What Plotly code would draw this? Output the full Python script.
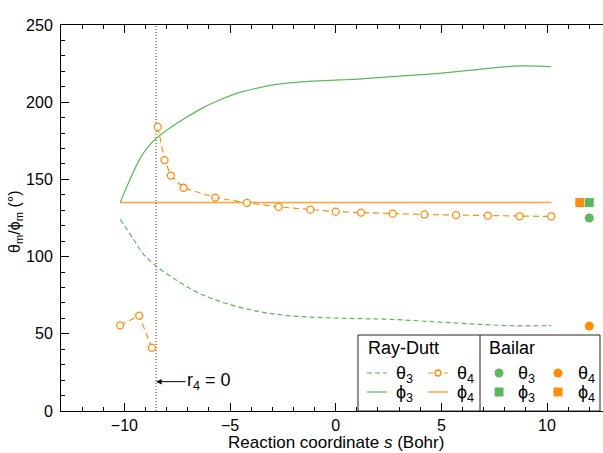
import plotly.graph_objects as go

# ---------------- data ----------------
s_theta3 = [-10.2, -9.6, -9.13, -8.5, -7.55, -6.45, -5.2, -3.6, -2.0, -0.45, 1.14, 2.56, 4.93, 6.82, 8.56, 10.2]
theta3 = [124.2, 111.8, 102.1, 93.9, 84.8, 76.2, 69.8, 64.3, 61.5, 60.4, 59.8, 59.4, 57.6, 56.1, 55.2, 55.3]

s_phi3 = [-10.2, -9.8, -9.3, -9.0, -8.5, -7.55, -6.4, -5.5, -4.4, -2.8, -1.2, 0.2, 1.1, 2.6, 4.9, 6.8, 8.4, 9.0, 10.2]
phi3 = [135, 148, 162.5, 169, 176.5, 186, 195.5, 201.4, 206.8, 211.5, 213.6, 214.4, 215, 216.5, 218.7, 221.3, 223.3, 223.5, 223]

s_theta4_a = [-10.2, -9.3, -8.7]
theta4_a = [55.5, 61.8, 41.0]
s_theta4_b = [-8.42, -8.1, -7.8, -7.2, -5.7, -4.2, -2.7, -1.2, 0.0, 1.2, 2.7, 4.2, 5.7, 7.2, 8.7, 10.2]
theta4_b = [184, 162.5, 152.5, 144.6, 138.2, 134.8, 132.2, 130.4, 129.1, 128.5, 127.8, 127.3, 126.9, 126.5, 126.1, 126.0]

s_phi4 = [-10.2, 10.2]
phi4 = [135, 135]

# Bailar reference values
bailar_s_theta3, bailar_theta3 = [12.0], [125]
bailar_s_phi3, bailar_phi3 = [12.0], [135]
bailar_s_theta4, bailar_theta4 = [12.0], [55]
bailar_s_phi4, bailar_phi4 = [11.55], [135]

s_r4_zero = -8.5
r4_label_y = 19

GREEN = "#5cb85c"
ORANGE = "#ff8c0a"
FONT = "Liberation Sans"

fig = go.Figure()

fig.add_trace(go.Scatter(x=[s_r4_zero, s_r4_zero], y=[0, 250], mode="lines",
                         line=dict(color="#333333", width=1, dash="1px,2px"), showlegend=False))
fig.add_trace(go.Scatter(x=s_theta3, y=theta3, mode="lines", line_shape="spline",
                         line=dict(color=GREEN, width=1.2, dash="5px,3px"), showlegend=False))
fig.add_trace(go.Scatter(x=s_phi3, y=phi3, mode="lines", line_shape="spline",
                         line=dict(color=GREEN, width=1.2), showlegend=False))
fig.add_trace(go.Scatter(x=s_phi4, y=phi4, mode="lines",
                         line=dict(color=ORANGE, width=1.5), opacity=0.8, showlegend=False))
for xs, ys in [(s_theta4_a, theta4_a), (s_theta4_b, theta4_b)]:
    fig.add_trace(go.Scatter(x=xs, y=ys, mode="lines+markers",
                             line=dict(color=ORANGE, width=1.2, dash="6px,4px"),
                             marker=dict(symbol="circle", size=7, color="white",
                                         line=dict(color=ORANGE, width=1.3)),
                             showlegend=False))
fig.add_trace(go.Scatter(x=bailar_s_theta3, y=bailar_theta3, mode="markers",
                         marker=dict(symbol="circle", size=9, color=GREEN), showlegend=False))
fig.add_trace(go.Scatter(x=bailar_s_phi3, y=bailar_phi3, mode="markers",
                         marker=dict(symbol="square", size=9, color=GREEN), showlegend=False))
fig.add_trace(go.Scatter(x=bailar_s_theta4, y=bailar_theta4, mode="markers",
                         marker=dict(symbol="circle", size=9, color=ORANGE), showlegend=False))
fig.add_trace(go.Scatter(x=bailar_s_phi4, y=bailar_phi4, mode="markers",
                         marker=dict(symbol="square", size=9, color=ORANGE), showlegend=False))

# ---------------- layout ----------------
L, T, R, B = 61, 25, 603, 411
W, H = 603, 453


def PX(px):
    return (px - L) / (R - L)


def PY(py):
    return (B - py) / (B - T)


axis_common = dict(showline=True, linecolor="black", linewidth=1, ticks="inside",
                   tickcolor="black", ticklen=8, tickwidth=1, showgrid=False, zeroline=False)

fig.update_layout(
    width=W, height=H,
    margin=dict(l=L, r=W - R, t=T, b=H - B),
    paper_bgcolor="white", plot_bgcolor="white",
    font=dict(family=FONT, size=18, color="black"),
    xaxis=dict(range=[-13, 12.65], tickvals=[-10, -5, 0, 5, 10], mirror="ticks",
               minor=dict(dtick=1, ticks="inside", ticklen=4, tickcolor="black", showgrid=False),
               ticklabelstandoff=0, tickfont=dict(family=FONT, size=16, color="black"), **axis_common),
    yaxis=dict(range=[0, 250], tickvals=[0, 50, 100, 150, 200, 250], mirror=False,
               minor=dict(dtick=10, ticks="inside", ticklen=4, tickcolor="black", showgrid=False),
               ticklabelstandoff=4, tickfont=dict(family=FONT, size=16, color="black"), **axis_common),
)

ann = []
ann.append(dict(xref="paper", yref="paper", x=PX(336), y=PY(442), text="Reaction coordinate <i>s</i> (Bohr)",
                showarrow=False, xanchor="center", yanchor="middle", font=dict(size=17)))
ann.append(dict(xref="paper", yref="paper", x=PX(15), y=PY(222), text="θ<sub>m</sub>/ϕ<sub>m</sub> (°)",
                showarrow=False, textangle=-90, xanchor="center", yanchor="middle", font=dict(size=16)))
ann.append(dict(xref="x", yref="y", x=s_r4_zero, y=r4_label_y, text="r<sub>4</sub> = 0",
                showarrow=True, ax=53, ay=0, arrowhead=2, arrowsize=1.1, arrowwidth=1,
                arrowcolor="black", standoff=0, font=dict(size=18)))

# legend texts
legend_texts = [
    ("Ray-Dutt", 366, 348), ("Bailar", 487, 348),
    ("θ<sub>3</sub>", 394, 374), ("θ<sub>4</sub>", 455, 374),
    ("ϕ<sub>3</sub>", 394, 393), ("ϕ<sub>4</sub>", 455, 393),
    ("θ<sub>3</sub>", 516, 374), ("θ<sub>4</sub>", 576, 374),
    ("ϕ<sub>3</sub>", 516, 393), ("ϕ<sub>4</sub>", 576, 393),
]
for txt, px, py in legend_texts:
    ann.append(dict(xref="paper", yref="paper", x=PX(px), y=PY(py), text=txt, showarrow=False,
                    xanchor="left", yanchor="middle", font=dict(size=18)))

shapes = []
shapes.append(dict(type="rect", xref="paper", yref="paper", x0=PX(358), x1=PX(600), y0=PY(411), y1=PY(335),
                   line=dict(color="#222222", width=1), fillcolor="rgba(0,0,0,0)", layer="above"))
shapes.append(dict(type="line", xref="paper", yref="paper", x0=PX(480), x1=PX(480), y0=PY(411), y1=PY(335),
                   line=dict(color="#222222", width=1), layer="above"))
# legend samples
shapes.append(dict(type="line", xref="paper", yref="paper", x0=PX(367), x1=PX(387), y0=PY(373), y1=PY(373),
                   line=dict(color=GREEN, width=1.2, dash="5px,3px")))
shapes.append(dict(type="line", xref="paper", yref="paper", x0=PX(367), x1=PX(387), y0=PY(392), y1=PY(392),
                   line=dict(color=GREEN, width=1.2)))
shapes.append(dict(type="line", xref="paper", yref="paper", x0=PX(428), x1=PX(448), y0=PY(373), y1=PY(373),
                   line=dict(color=ORANGE, width=1.2, dash="5px,3px")))
shapes.append(dict(type="line", xref="paper", yref="paper", x0=PX(428), x1=PX(448), y0=PY(392), y1=PY(392),
                   line=dict(color=ORANGE, width=1.5), opacity=0.8))


def marker_shape(kind, px, py, color, r, fill):
    return dict(type=kind, xref="paper", yref="paper", xsizemode="pixel", ysizemode="pixel",
                xanchor=PX(px), yanchor=PY(py), x0=-r, x1=r, y0=-r, y1=r,
                fillcolor=fill, line=dict(color=color, width=1.3 if fill == "white" else 0), layer="above")


shapes.append(marker_shape("circle", 438, 373, ORANGE, 3, "white"))
shapes.append(marker_shape("circle", 499, 373, GREEN, 4.5, GREEN))
shapes.append(marker_shape("circle", 558, 373, ORANGE, 4.5, ORANGE))
shapes.append(marker_shape("rect", 499, 392, GREEN, 4.5, GREEN))
shapes.append(marker_shape("rect", 558, 392, ORANGE, 4.5, ORANGE))

fig.update_layout(annotations=ann, shapes=shapes)

fig.write_html("out.html")
